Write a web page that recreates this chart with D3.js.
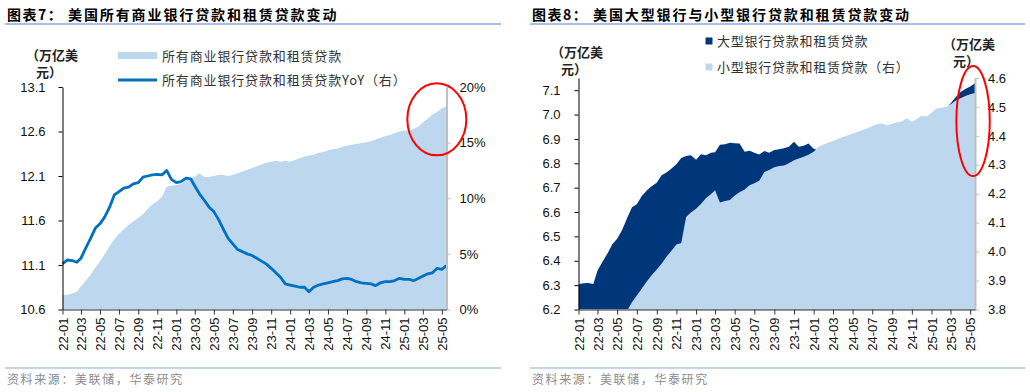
<!DOCTYPE html>
<html><head><meta charset="utf-8">
<script src="https://cdn.jsdelivr.net/npm/d3@7"></script>
<style>
body{margin:0;background:#fff;}
svg{display:block;}
text{font-family:"Liberation Sans",Arial,"Noto Sans CJK SC",sans-serif;}
.cjk{font-family:"Noto Sans CJK SC",sans-serif;}
</style></head><body>
<svg id="c" width="1030" height="392"></svg>
<script>
// ---------------- DATA ----------------
const dates = [
"2022-01-01","2022-01-16","2022-02-01","2022-02-16","2022-03-01","2022-03-16","2022-04-01","2022-04-16","2022-05-01","2022-05-16",
"2022-06-01","2022-06-16","2022-07-01","2022-07-16","2022-08-01","2022-08-16","2022-09-01","2022-09-16","2022-10-01","2022-10-16",
"2022-11-01","2022-11-16","2022-12-01","2022-12-16","2023-01-01","2023-01-16","2023-02-01","2023-02-16","2023-03-01","2023-03-16",
"2023-04-01","2023-04-16","2023-05-01","2023-05-16","2023-06-01","2023-06-16","2023-07-01","2023-07-16","2023-08-01","2023-08-16",
"2023-09-01","2023-09-16","2023-10-01","2023-10-16","2023-11-01","2023-11-16","2023-12-01","2023-12-16","2024-01-01","2024-01-16",
"2024-02-01","2024-02-16","2024-03-01","2024-03-16","2024-04-01","2024-04-16","2024-05-01","2024-05-16","2024-06-01","2024-06-16",
"2024-07-01","2024-07-16","2024-08-01","2024-08-16","2024-09-01","2024-09-16","2024-10-01","2024-10-16","2024-11-01","2024-11-16",
"2024-12-01","2024-12-16","2025-01-01","2025-01-16","2025-02-01","2025-02-16","2025-03-01","2025-03-16","2025-04-01","2025-04-16",
"2025-05-01","2025-05-16"];

// Chart 7: all commercial banks loans & leases (trillion USD) and YoY (%)
const totalLoans = [10.76,10.765,10.78,10.80,10.86,10.92,10.99,11.07,11.14,11.22,
11.31,11.39,11.45,11.50,11.55,11.59,11.63,11.67,11.73,11.78,
11.82,11.87,11.98,11.99,12.00,12.01,12.05,12.08,12.09,12.13,
12.09,12.09,12.10,12.11,12.11,12.10,12.11,12.13,12.15,12.17,
12.19,12.21,12.23,12.25,12.26,12.27,12.26,12.27,12.26,12.28,
12.30,12.32,12.33,12.34,12.36,12.37,12.39,12.40,12.41,12.43,
12.44,12.45,12.46,12.47,12.48,12.49,12.51,12.53,12.55,12.56,
12.58,12.60,12.61,12.61,12.63,12.66,12.70,12.74,12.79,12.82,
12.86,12.88];
const totalYoY = [4.1,4.45,4.4,4.25,4.6,5.5,6.4,7.3,7.7,8.3,
9.2,10.3,10.6,10.9,11.0,11.3,11.4,11.9,12.0,12.1,
12.15,12.1,12.5,11.7,11.4,11.5,11.8,11.75,11.1,10.4,
9.8,9.2,8.8,8.1,7.2,6.4,5.9,5.4,5.2,5.0,
4.85,4.6,4.35,4.1,3.7,3.3,2.9,2.3,2.2,2.1,
2.0,2.0,1.6,2.0,2.2,2.3,2.4,2.5,2.6,2.75,
2.8,2.7,2.5,2.4,2.35,2.3,2.15,2.4,2.5,2.5,
2.6,2.8,2.7,2.7,2.6,2.8,3.0,3.2,3.3,3.7,
3.6,3.95];

// Chart 8: large banks (left axis) and small banks (right axis), trillion USD
const largeBanks = [6.304,6.308,6.309,6.305,6.36,6.395,6.43,6.468,6.49,6.525,
6.575,6.62,6.632,6.665,6.688,6.706,6.72,6.751,6.762,6.778,
6.796,6.822,6.830,6.833,6.815,6.837,6.833,6.843,6.845,6.876,
6.878,6.884,6.882,6.881,6.847,6.851,6.843,6.836,6.85,6.843,
6.855,6.858,6.862,6.868,6.888,6.868,6.872,6.881,6.86,6.855,
6.86,6.865,6.875,6.88,6.885,6.89,6.895,6.90,6.905,6.91,
6.915,6.92,6.92,6.925,6.93,6.93,6.94,6.945,6.945,6.95,
6.955,6.96,6.975,6.99,7.01,7.025,7.045,7.07,7.093,7.105,
7.115,7.128];
const smallBanks = [3.62,3.63,3.64,3.65,3.67,3.69,3.71,3.73,3.755,3.775,
3.796,3.825,3.848,3.872,3.897,3.918,3.938,3.958,3.982,4.002,
4.025,4.03,4.12,4.135,4.148,4.165,4.185,4.198,4.212,4.17,
4.175,4.178,4.194,4.205,4.215,4.229,4.236,4.245,4.275,4.282,
4.292,4.296,4.298,4.305,4.316,4.322,4.328,4.335,4.345,4.362,
4.37,4.377,4.382,4.39,4.396,4.402,4.408,4.413,4.42,4.426,
4.434,4.441,4.443,4.437,4.442,4.447,4.45,4.461,4.449,4.458,
4.47,4.466,4.48,4.495,4.497,4.5,4.508,4.521,4.53,4.538,
4.544,4.548];

const xTickLabels = ["22-01","22-03","22-05","22-07","22-09","22-11","23-01","23-03","23-05","23-07","23-09","23-11",
"24-01","24-03","24-05","24-07","24-09","24-11","25-01","25-03","25-05"];
const c7LeftTicks = [10.6,11.1,11.6,12.1,12.6,13.1];
const c7RightTicks = [0,5,10,15,20];
const c8LeftTicks = [6.2,6.3,6.4,6.5,6.6,6.7,6.8,6.9,7.0,7.1];
const c8RightTicks = [3.8,3.9,4.0,4.1,4.2,4.3,4.4,4.5,4.6];

const title7 = "美国所有商业银行贷款和租赁贷款变动";
const title8 = "美国大型银行与小型银行贷款和租赁贷款变动";
const legend7 = ["所有商业银行贷款和租赁贷款","所有商业银行贷款和租赁贷款YoY（右）"];
const legend8 = ["大型银行贷款和租赁贷款","小型银行贷款和租赁贷款（右）"];
const sourceText = "资料来源：美联储，华泰研究";

// annotation ellipses (in data terms)
const circle7 = {date:"2025-04-15", value:12.737};
const circle8 = {date:"2025-05-10", value:4.451};

// ---------------- DRAW ----------------
const parse = d3.timeParse("%Y-%m-%d");
const parseM = d3.timeParse("%y-%m");
const svg = d3.select("#c");
const LIGHT = "#BDD7EE", DARK = "#00377A", LINE = "#0070C0";
const rows = dates.map((d,i)=>({date:parse(d), total:totalLoans[i], yoy:totalYoY[i], large:largeBanks[i], small:smallBanks[i]}));
const tickDates = xTickLabels.map(parseM);
const xDomain = [parse(dates[0]), parse(dates[dates.length-1])];

function header(x0, x1, label, title, titleX){
  svg.append("text").attr("class","cjk").attr("x",x0+2).attr("y",20).attr("font-size",14).attr("font-weight","bold")
    .attr("letter-spacing",1.5).attr("fill","#000").text(label);
  svg.append("text").attr("class","cjk").attr("x",titleX).attr("y",20).attr("font-size",14).attr("font-weight","bold")
    .attr("letter-spacing",1.9).attr("fill","#000").text(title);
  svg.append("line").attr("x1",x0).attr("x2",x1).attr("y1",24).attr("y2",24).attr("stroke","#8EAADB").attr("stroke-width",1.5);
  svg.append("line").attr("x1",x0).attr("x2",x1).attr("y1",368).attr("y2",368).attr("stroke","#8EAADB").attr("stroke-width",1.2);
  svg.append("text").attr("class","cjk").attr("x",x0+2).attr("y",384).attr("font-size",12).attr("letter-spacing",1.6)
    .attr("fill","#8c8c8c").text(sourceText);
}
function unitLabel(x, y){
  svg.append("text").attr("class","cjk").attr("x",x).attr("y",y).attr("font-size",13).attr("font-weight","bold").attr("fill","#222").text("（万亿美");
  svg.append("text").attr("class","cjk").attr("x",x+10).attr("y",y+17).attr("font-size",13).attr("font-weight","bold").attr("fill","#222").text("元）");
}
function styleAxis(g, color, width){
  g.select(".domain").attr("stroke",color).attr("stroke-width",width);
  g.selectAll(".tick line").attr("stroke",color).attr("stroke-width",1);
  g.selectAll(".tick text").attr("fill","#111").attr("font-size",13);
}
function xAxis(x, y0){
  const g = svg.append("g").attr("transform",`translate(0,${y0})`)
    .call(d3.axisBottom(x).tickValues(tickDates).tickFormat(d3.timeFormat("%y-%m")).tickSize(5).tickSizeOuter(0));
  styleAxis(g,"#333",1.2);
  g.selectAll(".tick text").attr("transform","rotate(-90)").attr("text-anchor","end")
    .attr("x",-8).attr("y",0).attr("dy","0.35em");
}

// ===== Chart 7 =====
header(5, 501, "图表7：", title7, 68);
{
  const top=87, bot=309.5, left=62.5, right=446.5;
  const x = d3.scaleTime().domain(xDomain).range([left,right]);
  const yL = d3.scaleLinear().domain([10.6,13.1]).range([bot,top]);
  const yR = d3.scaleLinear().domain([0,20]).range([bot,top]);
  svg.append("path").datum(rows).attr("fill",LIGHT)
    .attr("d", d3.area().x(d=>x(d.date)).y0(yL(10.6)).y1(d=>yL(d.total)));
  svg.append("path").datum(rows).attr("fill","none").attr("stroke",LINE).attr("stroke-width",2.8).attr("stroke-linejoin","round")
    .attr("d", d3.line().x(d=>x(d.date)).y(d=>yR(d.yoy)));
  const gl = svg.append("g").attr("transform",`translate(${left},0)`)
    .call(d3.axisLeft(yL).tickValues(c7LeftTicks).tickFormat(d3.format(".1f")).tickSize(4).tickPadding(13).tickSizeOuter(0));
  styleAxis(gl,"#000",1);
  const gr = svg.append("g").attr("transform",`translate(${right},0)`)
    .call(d3.axisRight(yR).tickValues(c7RightTicks).tickFormat(d=>d+"%").tickSize(4).tickPadding(9).tickSizeOuter(0));
  styleAxis(gr,"#BFBFBF",2);
  xAxis(x, bot);
  // legend
  svg.append("rect").attr("x",118).attr("y",52).attr("width",39).attr("height",7).attr("fill",LIGHT);
  svg.append("line").attr("x1",118).attr("x2",157).attr("y1",80).attr("y2",80).attr("stroke",LINE).attr("stroke-width",3);
  legend7.forEach((t,i)=>svg.append("text").attr("class","cjk").attr("x",162).attr("y",56+i*24).attr("dy","0.35em")
    .attr("font-size",13).attr("letter-spacing",0.85).attr("fill","#333").text(t));
  unitLabel(26, 60);
  svg.append("ellipse").attr("cx",x(parse(circle7.date))).attr("cy",yL(circle7.value)).attr("rx",29.5).attr("ry",36)
    .attr("fill","none").attr("stroke","#FF0000").attr("stroke-width",2);
}

// ===== Chart 8 =====
header(530, 1025, "图表8：", title8, 593);
{
  const top=78, bot=309.5, left=578.5, right=975;
  const x = d3.scaleTime().domain(xDomain).range([left,right]);
  const yL = d3.scaleLinear().domain([6.2,7.15]).range([bot,top]);
  const yR = d3.scaleLinear().domain([3.8,4.6]).range([bot,top]);
  svg.append("clipPath").attr("id","clip8").append("rect").attr("x",left).attr("y",top).attr("width",right-left).attr("height",bot-top);
  const g = svg.append("g").attr("clip-path","url(#clip8)");
  g.append("path").datum(rows).attr("fill",DARK)
    .attr("d", d3.area().x(d=>x(d.date)).y0(bot).y1(d=>yL(d.large)));
  g.append("path").datum(rows).attr("fill",LIGHT)
    .attr("d", d3.area().x(d=>x(d.date)).y0(bot).y1(d=>yR(d.small)));
  const gl = svg.append("g").attr("transform",`translate(${left},0)`)
    .call(d3.axisLeft(yL).tickValues(c8LeftTicks).tickFormat(d3.format(".1f")).tickSize(4).tickPadding(14).tickSizeOuter(0));
  styleAxis(gl,"#000",1);
  const gr = svg.append("g").attr("transform",`translate(${right},0)`)
    .call(d3.axisRight(yR).tickValues(c8RightTicks).tickFormat(d3.format(".1f")).tickSize(4).tickPadding(9).tickSizeOuter(0));
  styleAxis(gr,"#BFBFBF",2);
  xAxis(x, bot);
  // legend
  svg.append("rect").attr("x",705.5).attr("y",37.5).attr("width",7).attr("height",7).attr("fill",DARK);
  svg.append("rect").attr("x",705.5).attr("y",63.5).attr("width",7).attr("height",7).attr("fill",LIGHT);
  legend8.forEach((t,i)=>svg.append("text").attr("class","cjk").attr("x",717).attr("y",41+i*26).attr("dy","0.35em")
    .attr("font-size",13).attr("letter-spacing",0.75).attr("fill","#333").text(t));
  unitLabel(551, 57);
  unitLabel(943, 49);
  svg.append("ellipse").attr("cx",x(parse(circle8.date))).attr("cy",yR(circle8.value)).attr("rx",16.7).attr("ry",55)
    .attr("fill","none").attr("stroke","#FF0000").attr("stroke-width",2);
}
</script>
</body></html>
